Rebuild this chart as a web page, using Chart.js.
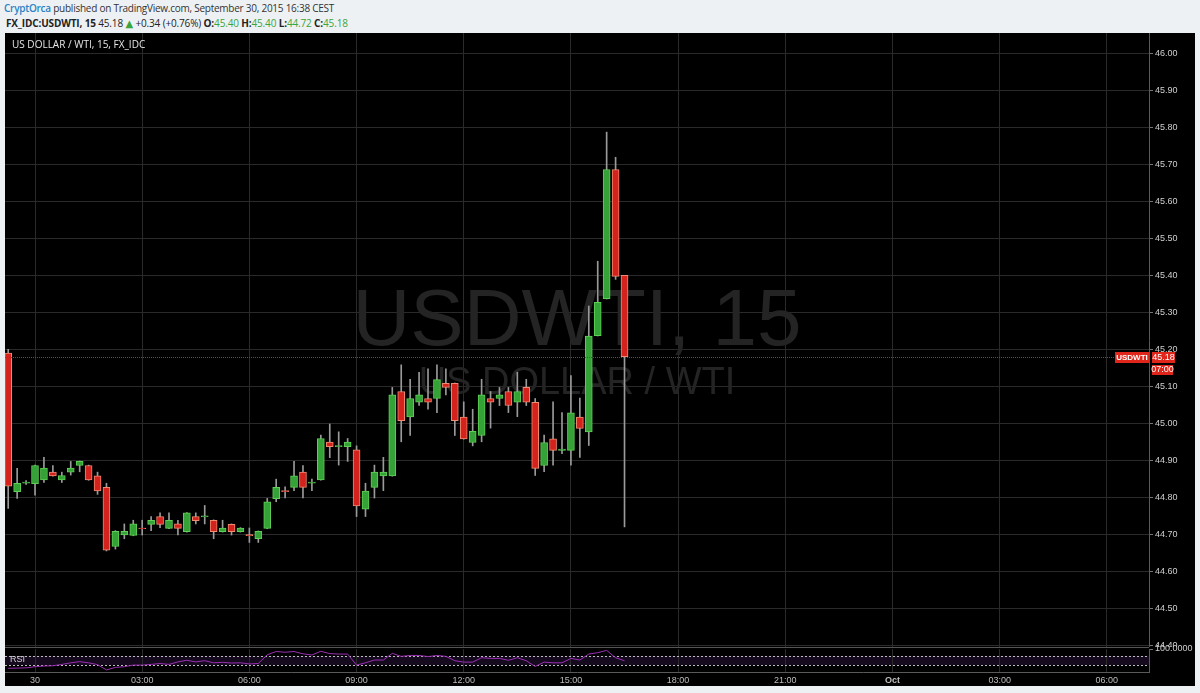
<!DOCTYPE html>
<html>
<head>
<meta charset="utf-8">
<title>USDWTI 15</title>
<script src="https://cdn.jsdelivr.net/npm/chart.js@4.4.0/dist/chart.umd.min.js"></script>
<style>
  html, body { margin: 0; padding: 0; }
  body { width: 1200px; height: 693px; background: #eef1f4; position: relative; overflow: hidden;
         font-family: "Open Sans", "DejaVu Sans", sans-serif; }
  #h1 { position: absolute; left: 4px; top: 1px; font-size: 10px; line-height: 14px; letter-spacing: -0.25px; color: #333; white-space: nowrap; }
  #h1 .user { color: #2a83c6; font-weight: 600; }
  #h2 { position: absolute; left: 6px; top: 16px; font-size: 10px; line-height: 14px; letter-spacing: -0.15px; color: #222; white-space: nowrap; }
  .b { font-weight: 700; }
  .g { color: #3aa53a; }
  #pane { position: absolute; left: 5px; top: 33px; width: 1190px; height: 653px; background: #000; }
  #main { position: absolute; left: 5px; top: 33px; }
  #rsi { position: absolute; left: 5px; top: 627px; }
</style>
</head>
<body>
<div id="h1"><span class="user">CryptOrca</span> published on TradingView.com, September 30, 2015 16:38 CEST</div>
<div id="h2"><span class="b">FX_IDC:USDWTI, 15</span> 45.18 <span class="g">&#9650;</span> +0.34 (+0.76%) <span class="b">O:</span><span class="g">45.40</span> <span class="b">H:</span><span class="g">45.40</span> <span class="b">L:</span><span class="g">44.72</span> <span class="b">C:</span><span class="g">45.18</span></div>
<div id="pane"></div>
<canvas id="main" width="1190" height="614"></canvas>
<canvas id="rsi" width="1190" height="59"></canvas>
<script>
(function() {
  "use strict";

  // 15 minute bars, Sep 29 23:15 -> Sep 30 16:30
  var TIMES = ['23:15','23:30','23:45',
    '00:00','00:15','00:30','00:45','01:00','01:15','01:30','01:45',
    '02:00','02:15','02:30','02:45','03:00','03:15','03:30','03:45',
    '04:00','04:15','04:30','04:45','05:00','05:15','05:30','05:45',
    '06:00','06:15','06:30','06:45','07:00','07:15','07:30','07:45',
    '08:00','08:15','08:30','08:45','09:00','09:15','09:30','09:45',
    '10:00','10:15','10:30','10:45','11:00','11:15','11:30','11:45',
    '12:00','12:15','12:30','12:45','13:00','13:15','13:30','13:45',
    '14:00','14:15','14:30','14:45','15:00','15:15','15:30','15:45',
    '16:00','16:15','16:30'];

  var OPEN = [45.19,44.815,44.838,44.837,44.847,44.868,44.847,44.868,44.886,44.886,
    44.858,44.827,44.667,44.698,44.697,44.717,44.727,44.748,44.716,44.728,
    44.707,44.748,44.747,44.738,44.707,44.727,44.707,44.699,44.688,44.716,
    44.796,44.818,44.827,44.868,44.838,44.847,44.949,44.937,44.937,44.928,
    44.768,44.827,44.858,44.858,45.086,45.017,45.057,45.067,45.067,45.108,
    45.108,45.017,44.948,44.967,45.067,45.067,45.086,45.057,45.097,45.057,
    44.886,44.958,44.927,44.927,45.017,44.977,45.237,45.337,45.686,45.40];
  var HIGH = [45.20,44.878,44.845,44.887,44.908,44.886,44.868,44.897,44.898,44.887,
    44.868,44.838,44.71,44.728,44.738,44.738,44.748,44.758,44.758,44.738,
    44.759,44.758,44.778,44.739,44.738,44.728,44.718,44.717,44.709,44.797,
    44.849,44.828,44.897,44.886,44.849,44.968,44.998,44.977,44.959,44.939,
    44.838,44.887,44.908,45.097,45.158,45.119,45.138,45.147,45.158,45.147,
    45.109,45.058,45.038,45.119,45.086,45.097,45.097,45.138,45.119,45.067,
    44.968,45.058,45.029,45.129,45.068,45.317,45.438,45.787,45.719,45.40];
  var LOW = [44.77,44.797,44.835,44.806,44.84,44.857,44.84,44.86,44.869,44.846,
    44.808,44.655,44.66,44.688,44.696,44.698,44.71,44.718,44.715,44.698,
    44.706,44.728,44.728,44.688,44.706,44.698,44.706,44.678,44.678,44.715,
    44.788,44.798,44.818,44.798,44.818,44.846,44.907,44.887,44.897,44.748,
    44.748,44.798,44.818,44.857,44.95,44.967,45.048,45.038,45.029,45.077,
    44.967,44.957,44.939,44.95,44.987,45.048,45.029,45.018,45.048,44.859,
    44.869,44.887,44.918,44.887,44.908,44.94,45.236,45.336,45.389,44.72];
  var CLOSE = [44.83,44.838,44.841,44.886,44.879,44.858,44.859,44.879,44.897,44.847,
    44.817,44.657,44.708,44.708,44.728,44.715,44.738,44.727,44.738,44.716,
    44.758,44.737,44.750,44.707,44.717,44.707,44.717,44.696,44.708,44.788,
    44.827,44.815,44.858,44.827,44.841,44.959,44.937,44.940,44.949,44.777,
    44.817,44.868,44.868,45.077,45.007,45.067,45.077,45.057,45.118,45.097,
    45.007,44.958,44.978,45.077,45.057,45.077,45.048,45.086,45.057,44.878,
    44.948,44.927,44.930,45.028,44.986,45.236,45.327,45.686,45.397,45.18];

  var RSI = [16,17,18,23,26,27,33,40,45,40,
    32,9,20,23,30,30,33,37,33,44,
    51,44,49,40,42,39,40,35,37,75,
    89,86,89,79,74,90,80,78,78,30,
    40,52,52,81,68,72,72,67,72,68,
    49,43,43,62,59,59,51,62,49,24,
    43,40,40,59,52,78,84,94,62,49];

  var TICK_HOURS = [0,3,6,9,12,15,18,21,24,27,30];
  var TICK_LABELS = ['30','03:00','06:00','09:00','12:00','15:00','18:00','21:00','Oct','03:00','06:00'];
  var PRICE_TICKS = ['44.40','44.50','44.60','44.70','44.80','44.90','45.00','45.10','45.20',
    '45.30','45.40','45.50','45.60','45.70','45.80','45.90','46.00'];
  var RSI_TICKS = ['100.0000'];
  var RSI_UPPER = 70, RSI_LOWER = 30;

  var SYMBOL = 'USDWTI';
  var LAST_PRICE = 45.18;
  var COUNTDOWN = '07:00';
  var TITLE = 'US DOLLAR / WTI, 15, FX_IDC';
  var WATERMARK = 'USDWTI, 15';
  var WATERMARK_SUB = 'US DOLLAR / WTI';

  var X_MIN = -0.84, X_MAX = 31.18;
  var Y_MIN = 44.3954, Y_MAX = 46.0549;

  var AXIS_FONT = '"Liberation Sans", Arial, sans-serif';
  var GRID = '#2a2a2a';

  var toHours = function(s) {
    var p = s.split(':');
    var v = Number(p[0]) + Number(p[1]) / 60;
    return v >= 20 ? v - 24 : v;
  };
  var hours = TIMES.map(toHours);
  var isUp = function(i) { return CLOSE[i] >= OPEN[i]; };

  var timeTicks = function(scale) {
    scale.ticks = TICK_HOURS.map(function(v) { return { value: v }; });
  };
  // no extra room for end labels, the panes are laid out by hand
  var noPad = function(s) {
    s.paddingTop = 0; s.paddingBottom = 0; s.paddingLeft = 0; s.paddingRight = 0;
  };

  Chart.defaults.font.family = AXIS_FONT;
  Chart.defaults.animation = false;

  var mainDecor = {
    id: 'mainDecor',
    beforeDatasetsDraw: function(chart) {
      var ctx = chart.ctx, a = chart.chartArea;
      var cx = (a.left + a.right) / 2;
      ctx.save();
      ctx.fillStyle = '#242424';
      ctx.textAlign = 'center';
      ctx.textBaseline = 'alphabetic';
      ctx.font = '80px "Liberation Sans", Arial, sans-serif';
      ctx.fillText(WATERMARK, cx, 312);
      ctx.font = '38px "Liberation Sans", Arial, sans-serif';
      ctx.fillText(WATERMARK_SUB, cx, 361);
      ctx.restore();
    },
    afterDatasetsDraw: function(chart) {
      var ctx = chart.ctx, a = chart.chartArea;
      var y = Math.round(chart.scales.y.getPixelForValue(LAST_PRICE)) + 0.5;
      ctx.save();
      ctx.strokeStyle = '#c0261d';
      ctx.lineWidth = 1;
      ctx.setLineDash([1, 1]);
      ctx.beginPath();
      ctx.moveTo(a.left, y);
      ctx.lineTo(a.right, y);
      ctx.stroke();
      ctx.restore();
    },
    afterDraw: function(chart) {
      var ctx = chart.ctx, a = chart.chartArea;
      var y = Math.round(chart.scales.y.getPixelForValue(LAST_PRICE));
      ctx.save();
      // pane title
      ctx.fillStyle = '#e6e6e6';
      ctx.font = '10px "Open Sans", "DejaVu Sans", sans-serif';
      ctx.textBaseline = 'middle';
      ctx.textAlign = 'left';
      ctx.fillText(TITLE, 7, 12);
      // last price tags
      ctx.fillStyle = '#e0261b';
      ctx.fillRect(a.right - 34, y - 5, 34, 11);
      ctx.fillRect(a.right + 3, y - 5, 23, 11);
      ctx.fillRect(a.right + 3, y + 8, 21, 10);
      ctx.fillStyle = '#ffffff';
      ctx.font = 'bold 8px ' + AXIS_FONT;
      ctx.textAlign = 'center';
      ctx.fillText(SYMBOL, a.right - 17, y + 1);
      ctx.font = '9px ' + AXIS_FONT;
      ctx.fillText(LAST_PRICE.toFixed(2), a.right + 14.5, y + 1);
      ctx.fillText(COUNTDOWN, a.right + 13.5, y + 13);
      ctx.restore();
    }
  };

  new Chart(document.getElementById('main'), {
    type: 'bar',
    data: {
      datasets: [{
        data: TIMES.map(function(t, i) { return { x: hours[i], y: [OPEN[i], CLOSE[i]] }; }),
        grouped: false,
        barThickness: 7,
        borderWidth: 1,
        borderSkipped: false,
        backgroundColor: TIMES.map(function(t, i) { return isUp(i) ? '#34a236' : '#d3231c'; }),
        borderColor: TIMES.map(function(t, i) { return isUp(i) ? '#5fcf55' : '#f08a72'; })
      }, {
        data: TIMES.map(function(t, i) { return { x: hours[i], y: [LOW[i], HIGH[i]] }; }),
        grouped: false,
        barThickness: 1,
        borderWidth: 0,
        backgroundColor: '#9a9a9a'
      }]
    },
    options: {
      responsive: false,
      devicePixelRatio: 1,
      events: [],
      layout: { padding: 0 },
      plugins: { legend: { display: false }, tooltip: { enabled: false } },
      scales: {
        x: {
          type: 'linear', min: X_MIN, max: X_MAX, offset: false,
          afterBuildTicks: timeTicks,
          afterFit: function(s) { s.height = 0; noPad(s); },
          ticks: { display: false },
          grid: { color: GRID, drawTicks: false, offset: false },
          border: { display: false }
        },
        y: {
          position: 'right', min: Y_MIN, max: Y_MAX,
          afterBuildTicks: function(s) {
            s.ticks = PRICE_TICKS.map(function(v) { return { value: Number(v) }; });
          },
          afterFit: function(s) { s.width = 46; noPad(s); },
          ticks: {
            color: '#cfcfcf', padding: 2, font: { size: 9 },
            callback: function(v, i) { return PRICE_TICKS[i]; }
          },
          grid: { color: GRID, tickColor: '#777', tickLength: 4 },
          border: { color: '#5a5a5a' }
        }
      }
    },
    plugins: [mainDecor]
  });

  var rsiDecor = {
    id: 'rsiDecor',
    beforeDraw: function(chart) {
      var ctx = chart.ctx, a = chart.chartArea, y = chart.scales.y;
      var y70 = y.getPixelForValue(RSI_UPPER), y30 = y.getPixelForValue(RSI_LOWER);
      ctx.save();
      ctx.fillStyle = '#160a1f';
      ctx.fillRect(a.left, y70, a.right - a.left, y30 - y70);
      ctx.restore();
    },
    beforeDatasetsDraw: function(chart) {
      var ctx = chart.ctx, a = chart.chartArea, y = chart.scales.y;
      var y70 = Math.round(y.getPixelForValue(RSI_UPPER)) + 0.5;
      var y30 = Math.round(y.getPixelForValue(RSI_LOWER)) + 0.5;
      ctx.save();
      ctx.strokeStyle = '#bdbdbd';
      ctx.lineWidth = 1;
      ctx.setLineDash([2, 2]);
      ctx.beginPath();
      ctx.moveTo(a.left, y70); ctx.lineTo(a.right, y70);
      ctx.moveTo(a.left, y30); ctx.lineTo(a.right, y30);
      ctx.stroke();
      ctx.setLineDash([]);
      ctx.strokeStyle = '#555';
      ctx.beginPath();
      ctx.moveTo(a.left, a.top - 1.5); ctx.lineTo(a.right, a.top - 1.5);
      ctx.stroke();
      ctx.fillStyle = '#cfcfcf';
      ctx.font = '9px ' + AXIS_FONT;
      ctx.textBaseline = 'middle';
      ctx.fillText('RSI', 5, (y70 + y30) / 2 - 1);
      ctx.restore();
    }
  };

  new Chart(document.getElementById('rsi'), {
    type: 'line',
    data: {
      datasets: [{
        data: TIMES.map(function(t, i) { return { x: hours[i], y: RSI[i] }; }),
        borderColor: '#9b2fb3',
        borderWidth: 1,
        pointRadius: 0,
        tension: 0
      }]
    },
    options: {
      responsive: false,
      devicePixelRatio: 1,
      events: [],
      layout: { padding: { top: 22, left: 0, right: 0, bottom: 0 } },
      plugins: { legend: { display: false }, tooltip: { enabled: false } },
      scales: {
        x: {
          type: 'linear', min: X_MIN, max: X_MAX,
          afterBuildTicks: timeTicks,
          afterFit: function(s) { s.height = 14; noPad(s); },
          ticks: {
            color: '#bdbdbd', padding: 3, maxRotation: 0, autoSkip: false,
            font: function(c) {
              return { size: 9, weight: TICK_LABELS[c.index] === 'Oct' ? 'bold' : 'normal' };
            },
            callback: function(v, i) { return TICK_LABELS[i]; }
          },
          grid: { color: GRID, drawTicks: false },
          border: { color: '#5a5a5a' }
        },
        y: {
          position: 'right', min: 0, max: 100,
          afterBuildTicks: function(s) { s.ticks = [{ value: 100 }]; },
          afterFit: function(s) { s.width = 46; noPad(s); },
          ticks: {
            color: '#cfcfcf', padding: 2, font: { size: 9 },
            callback: function(v, i) { return RSI_TICKS[i]; }
          },
          grid: { drawOnChartArea: false, tickColor: '#777', tickLength: 4 },
          border: { color: '#5a5a5a' }
        }
      }
    },
    plugins: [rsiDecor]
  });
})();
</script>
</body>
</html>
